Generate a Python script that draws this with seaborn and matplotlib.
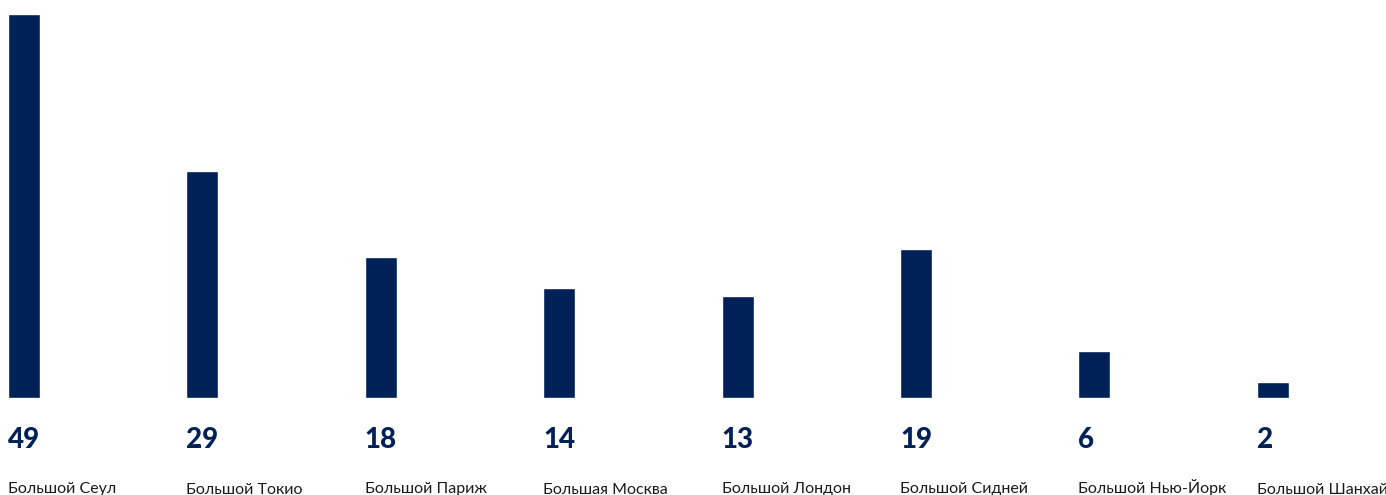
import matplotlib
matplotlib.use("Agg")
import matplotlib.pyplot as plt
import matplotlib.transforms as mtransforms
import seaborn as sns
import pandas as pd

categories = ["Большой Сеул", "Большой Токио", "Большой Париж", "Большая Москва",
              "Большой Лондон", "Большой Сидней", "Большой Нью-Йорк", "Большой Шанхай"]
values = [49, 29, 18, 14, 13, 19, 6, 2]
value_labels = ["49", "29", "18", "14", "13", "19", "6", "2"]

NAVY = "#002157"

sns.set_style("white")
plt.rcParams['font.family'] = ['Lato', 'DejaVu Sans']

W, H = 1386, 495
fig = plt.figure(figsize=(W / 100, H / 100), dpi=100)
ax = fig.add_axes([0, 97 / H, 1, 398 / H])

df = pd.DataFrame({"cat": categories, "val": values})
sns.barplot(data=df, x="cat", y="val", color=NAVY, saturation=1, width=32 / 178.4, ax=ax)

step = 178.4
x0 = -24 / step
ax.set_xlim(x0, x0 + W / step)
ax.set_ylim(0, 49 * 398 / 384)
ax.axis("off")

trans = mtransforms.blended_transform_factory(ax.transData, fig.transFigure)
half = 16 / step
for i, (lab, cat) in enumerate(zip(value_labels, categories)):
    ax.text(i - half, (H - 440) / H, lab, transform=trans, ha="left", va="center",
            fontsize=20, fontweight="black", color=NAVY)
    ax.text(i - half, (H - 493.5) / H, cat, transform=trans, ha="left", va="baseline",
            fontsize=11.5, color="#1a1a1a")

fig.savefig("out.png", dpi=100)
